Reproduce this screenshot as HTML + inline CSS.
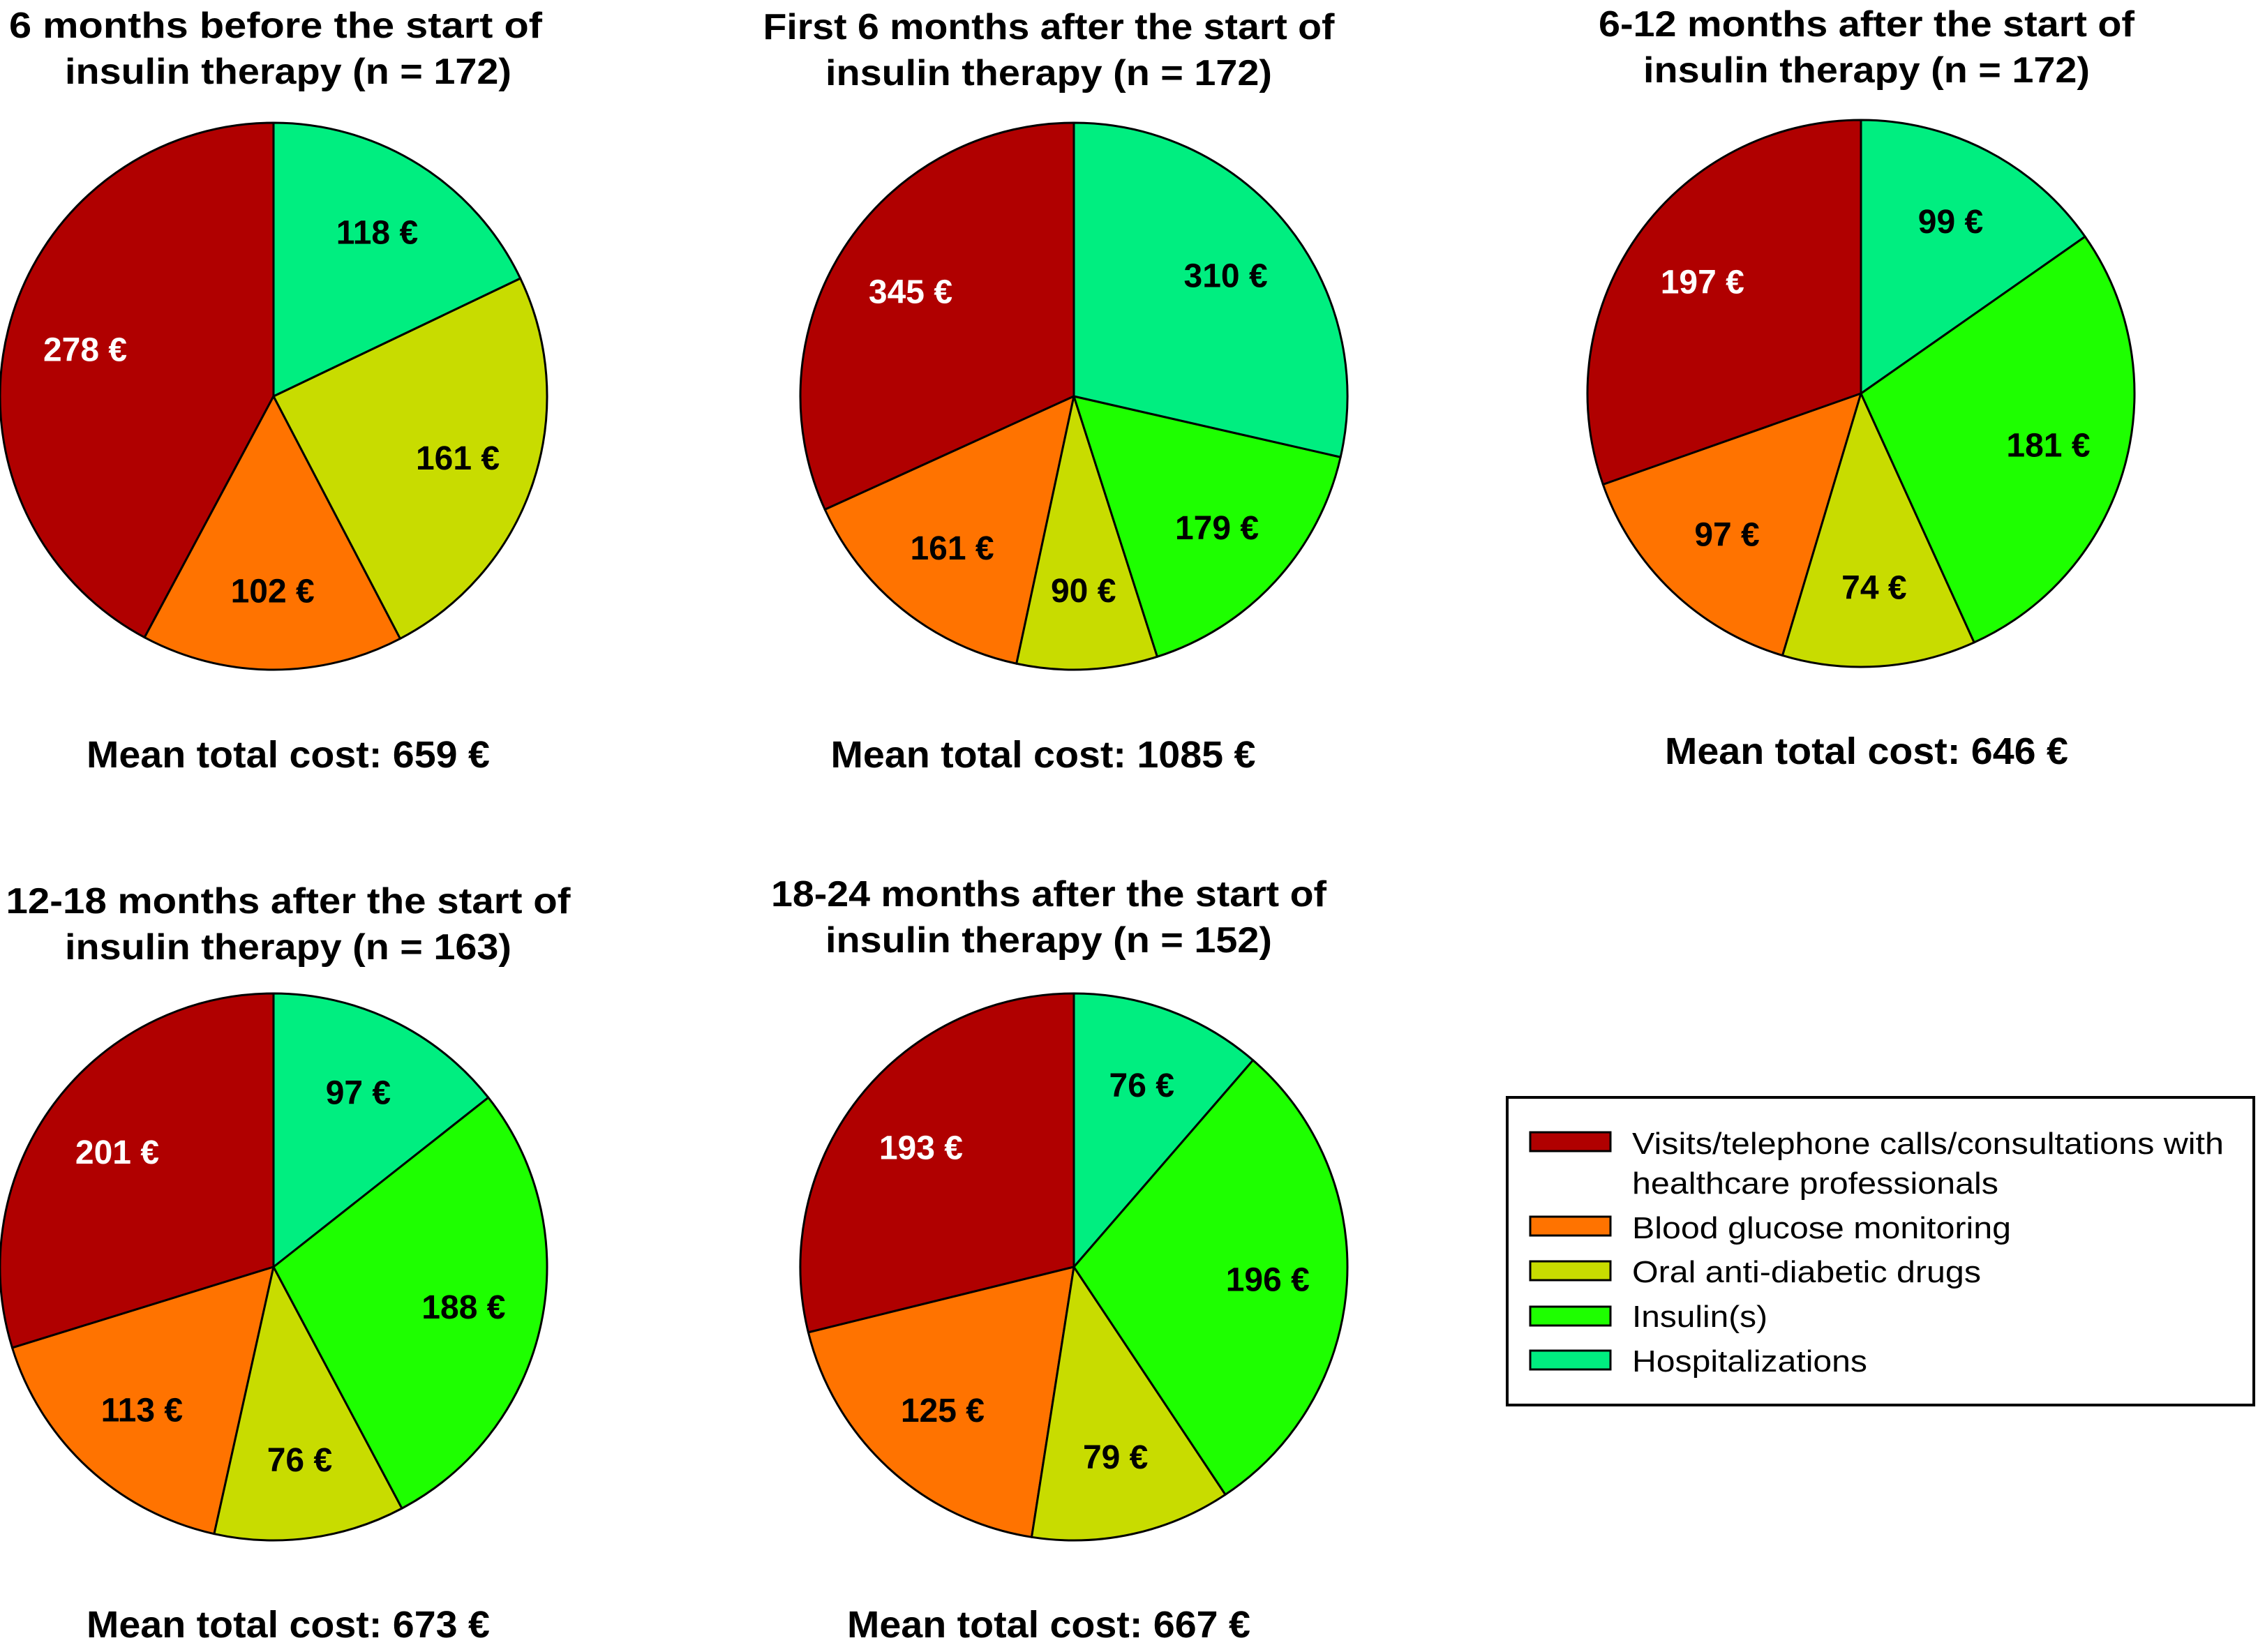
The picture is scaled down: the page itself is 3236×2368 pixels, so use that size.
<!DOCTYPE html>
<html><head><meta charset="utf-8"><style>
html,body{margin:0;padding:0;background:#fff;}
svg{display:block;}
text{font-family:"Liberation Sans",Arial,sans-serif;}
</style></head><body>
<svg id="chart" width="3236" height="2368" viewBox="0 0 3236 2368" xmlns="http://www.w3.org/2000/svg">
<rect x="0" y="0" width="3236" height="2368" fill="#fff"/>
<g id="pies"></g>
<g>
  <rect x="2160" y="1573" width="1070" height="441" fill="#fff" stroke="#000" stroke-width="4"/>
  <rect x="2193" y="1623" width="115" height="27" fill="#b00000" stroke="#000" stroke-width="3"/>
  <text x="2339" y="1654" font-size="44" textLength="848" lengthAdjust="spacingAndGlyphs">Visits/telephone calls/consultations with</text>
  <text x="2339" y="1711" font-size="44" textLength="525" lengthAdjust="spacingAndGlyphs">healthcare professionals</text>
  <rect x="2193" y="1744" width="115" height="27" fill="#ff7300" stroke="#000" stroke-width="3"/>
  <text x="2339" y="1775" font-size="44" textLength="543" lengthAdjust="spacingAndGlyphs">Blood glucose monitoring</text>
  <rect x="2193" y="1808" width="115" height="27" fill="#c8dc00" stroke="#000" stroke-width="3"/>
  <text x="2339" y="1838" font-size="44" textLength="500" lengthAdjust="spacingAndGlyphs">Oral anti-diabetic drugs</text>
  <rect x="2193" y="1873" width="115" height="27" fill="#1eff00" stroke="#000" stroke-width="3"/>
  <text x="2339" y="1902" font-size="44" textLength="194" lengthAdjust="spacingAndGlyphs">Insulin(s)</text>
  <rect x="2193" y="1936" width="115" height="27" fill="#00ee80" stroke="#000" stroke-width="3"/>
  <text x="2339" y="1966" font-size="44" textLength="337" lengthAdjust="spacingAndGlyphs">Hospitalizations</text>
</g>
</svg>
<script>
const categories = ["Visits", "Blood glucose monitoring", "Oral anti-diabetic drugs", "Insulin(s)", "Hospitalizations"];
const pie1Values = [278, 102, 161, 0, 118];
const pie2Values = [345, 161, 90, 179, 310];
const pie3Values = [197, 97, 74, 181, 99];
const pie4Values = [201, 113, 76, 188, 97];
const pie5Values = [193, 125, 79, 196, 76];
const titles1 = ["6 months before the start of", "First 6 months after the start of", "6-12 months after the start of", "12-18 months after the start of", "18-24 months after the start of"];
const titles2 = ["insulin therapy (n = 172)", "insulin therapy (n = 172)", "insulin therapy (n = 172)", "insulin therapy (n = 163)", "insulin therapy (n = 152)"];
const meanCosts = [659, 1085, 646, 673, 667];

const allValues = [pie1Values, pie2Values, pie3Values, pie4Values, pie5Values];
const colors = ["#b00000", "#ff7300", "#c8dc00", "#1eff00", "#00ee80"];
const textColors = ["#fff", "#000", "#000", "#000", "#000"];
const layout = [
  {cx:392, cy:568, t1:54, t2:120, tw1:764, tx1:395, tx2:413, my:1100, mw:578, mx:413},
  {cx:1539, cy:568, t1:56, t2:122, tw1:819, tx1:1503, tx2:1503, my:1100, mw:609, mx:1495},
  {cx:2667, cy:564, t1:52, t2:118, tw1:768, tx1:2675, tx2:2675, my:1095, mw:578, mx:2675},
  {cx:392, cy:1816, t1:1309, t2:1375, tw1:809, tx1:413, tx2:413, my:2347, mw:578, mx:413},
  {cx:1539, cy:1816, t1:1299, t2:1365, tw1:796, tx1:1503, tx2:1503, my:2347, mw:578, mx:1503}
];
const R = 392;
const NS = "http://www.w3.org/2000/svg";
const root = document.getElementById('pies');
function mk(tag, attrs){ const e = document.createElementNS(NS, tag); for (const k in attrs) e.setAttribute(k, attrs[k]); return e; }
function pt(cx, cy, r, a){ return [cx - r*Math.sin(a), cy - r*Math.cos(a)]; }

allValues.forEach((vals, p) => {
  const L = layout[p];
  const g = mk('g', {});
  
  
  root.appendChild(g);
  const total = vals.reduce((a,b)=>a+b, 0);
  let a0 = 0;
  vals.forEach((v, i) => {
    const a1 = a0 + v/total*2*Math.PI;
    const [x0,y0] = pt(L.cx, L.cy, R, a0);
    const [x1,y1] = pt(L.cx, L.cy, R, a1);
    const large = (a1 - a0) > Math.PI ? 1 : 0;
    const d = `M${L.cx},${L.cy} L${x0},${y0} A${R},${R} 0 ${large} 0 ${x1},${y1} Z`;
    const path = mk('path', {d:d, fill:colors[i], stroke:'#000', 'stroke-width':3, 'stroke-linejoin':'round'});
    
    
    g.appendChild(path);
    if (v > 0) {
      const am = (a0 + a1)/2;
      const [lx, ly] = pt(L.cx, L.cy, R*0.71, am);
      const t = mk('text', {x:lx, y:ly+17, 'text-anchor':'middle', 'font-size':48, 'font-weight':'bold', fill:textColors[i]});
      
      
      t.textContent = v + ' €';
      g.appendChild(t);
    }
    a0 = a1;
  });
  const tt1 = mk('text', {x:L.tx1, y:L.t1, 'text-anchor':'middle', 'font-size':52, 'font-weight':'bold', textLength:L.tw1, lengthAdjust:'spacingAndGlyphs'});
  
  
  tt1.textContent = titles1[p];
  g.appendChild(tt1);
  const tt2 = mk('text', {x:L.tx2, y:L.t2, 'text-anchor':'middle', 'font-size':52, 'font-weight':'bold', textLength:640, lengthAdjust:'spacingAndGlyphs'});
  
  
  tt2.textContent = titles2[p];
  g.appendChild(tt2);
  const mt = mk('text', {x:L.mx, y:L.my, 'text-anchor':'middle', 'font-size':54, 'font-weight':'bold', textLength:L.mw, lengthAdjust:'spacingAndGlyphs'});
  
  
  mt.textContent = 'Mean total cost: ' + meanCosts[p] + ' €';
  g.appendChild(mt);
});
</script>
</body></html>
